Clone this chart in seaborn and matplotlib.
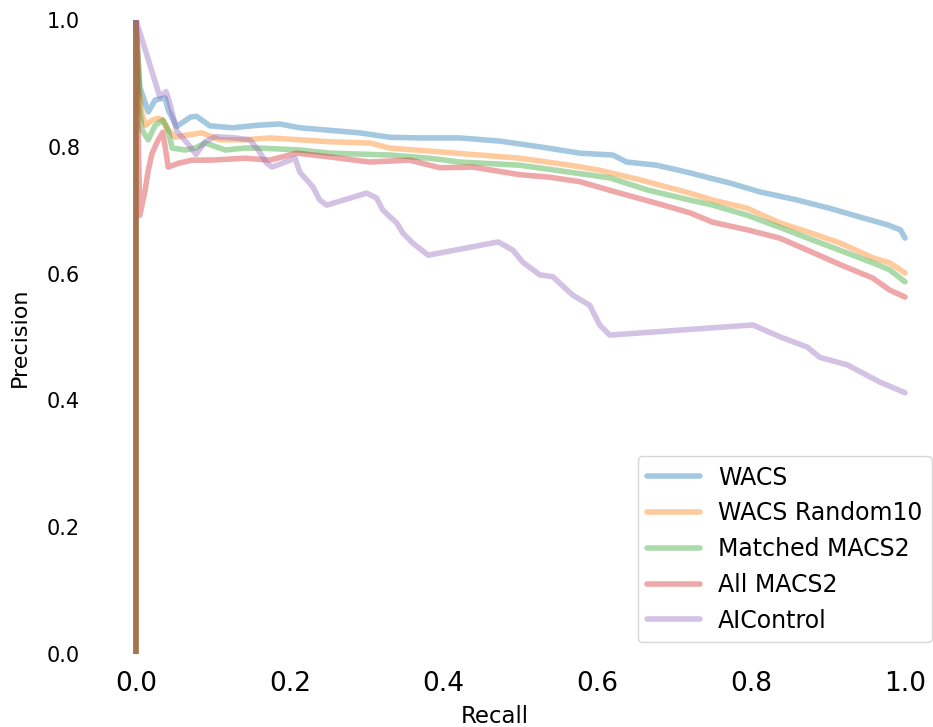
import numpy as np
import pandas as pd
import matplotlib
matplotlib.use("Agg")
import matplotlib.pyplot as plt
import seaborn as sns

series_names = ["WACS", "WACS Random10", "Matched MACS2", "All MACS2", "AIControl"]

wacs_recall = [0, 0, 0.005, 0.016, 0.025, 0.038, 0.042, 0.053, 0.071, 0.079, 0.096, 0.126, 0.158, 0.187,
               0.213, 0.252, 0.291, 0.330, 0.369, 0.421, 0.473, 0.525, 0.577, 0.620, 0.638, 0.677, 0.720,
               0.742, 0.772, 0.811, 0.860, 0.902, 0.942, 0.977, 0.994, 1.0]
wacs_precision = [0, 1, 0.894, 0.855, 0.874, 0.877, 0.858, 0.832, 0.847, 0.848, 0.833, 0.830, 0.834, 0.836,
                  0.830, 0.826, 0.822, 0.815, 0.814, 0.814, 0.809, 0.800, 0.790, 0.787, 0.776, 0.771, 0.759,
                  0.752, 0.743, 0.729, 0.716, 0.703, 0.689, 0.677, 0.669, 0.656]

rand_recall = [0, 0, 0.005, 0.008, 0.013, 0.021, 0.029, 0.035, 0.042, 0.051, 0.064, 0.086, 0.109, 0.142,
               0.174, 0.200, 0.252, 0.304, 0.330, 0.395, 0.447, 0.499, 0.564, 0.603, 0.655, 0.720, 0.750,
               0.795, 0.837, 0.873, 0.916, 0.958, 0.980, 1.0]
rand_precision = [0, 1, 0.882, 0.850, 0.834, 0.842, 0.845, 0.842, 0.826, 0.815, 0.818, 0.822, 0.811, 0.811,
                  0.814, 0.812, 0.808, 0.806, 0.798, 0.792, 0.787, 0.782, 0.771, 0.763, 0.748, 0.727, 0.716,
                  0.703, 0.680, 0.666, 0.648, 0.625, 0.617, 0.601]

matched_recall = [0, 0, 0.005, 0.008, 0.016, 0.025, 0.035, 0.042, 0.047, 0.064, 0.077, 0.090, 0.116, 0.142,
                  0.161, 0.213, 0.252, 0.330, 0.382, 0.421, 0.499, 0.564, 0.616, 0.665, 0.720, 0.750, 0.795,
                  0.837, 0.880, 0.915, 0.958, 0.980, 1.0]
matched_precision = [0, 1, 0.858, 0.826, 0.811, 0.834, 0.842, 0.826, 0.798, 0.795, 0.798, 0.806, 0.795, 0.798,
                     0.798, 0.795, 0.790, 0.787, 0.782, 0.776, 0.771, 0.760, 0.751, 0.732, 0.716, 0.708, 0.692,
                     0.673, 0.653, 0.637, 0.617, 0.606, 0.587]

all_recall = [0, 0, 0.005, 0.012, 0.016, 0.021, 0.029, 0.035, 0.042, 0.055, 0.073, 0.099, 0.142, 0.174,
              0.209, 0.252, 0.304, 0.356, 0.395, 0.438, 0.499, 0.538, 0.577, 0.629, 0.677, 0.720, 0.750,
              0.795, 0.837, 0.873, 0.916, 0.958, 0.980, 1.0]
all_precision = [0, 1, 0.692, 0.732, 0.763, 0.790, 0.811, 0.823, 0.768, 0.774, 0.779, 0.779, 0.782, 0.779,
                 0.790, 0.784, 0.776, 0.779, 0.767, 0.768, 0.756, 0.752, 0.745, 0.727, 0.711, 0.696, 0.681,
                 0.669, 0.656, 0.637, 0.614, 0.593, 0.574, 0.563]

aic_recall = [0, 0.031, 0.039, 0.044, 0.053, 0.068, 0.078, 0.090, 0.103, 0.129, 0.148, 0.159, 0.170, 0.177,
              0.207, 0.213, 0.230, 0.239, 0.248, 0.300, 0.313, 0.321, 0.339, 0.347, 0.360, 0.380, 0.471,
              0.490, 0.503, 0.525, 0.542, 0.568, 0.590, 0.603, 0.616, 0.802, 0.838, 0.873, 0.889, 0.925,
              0.967, 1.0]
aic_precision = [1, 0.879, 0.887, 0.869, 0.825, 0.804, 0.788, 0.808, 0.816, 0.814, 0.811, 0.795, 0.774, 0.768,
                 0.782, 0.760, 0.737, 0.716, 0.708, 0.727, 0.719, 0.700, 0.680, 0.664, 0.648, 0.629, 0.650,
                 0.637, 0.618, 0.598, 0.595, 0.566, 0.550, 0.519, 0.503, 0.519, 0.500, 0.484, 0.468, 0.456,
                 0.429, 0.412]

x_ticks = [0.0, 0.2, 0.4, 0.6, 0.8, 1.0]
x_ticklabels = ["0.0", "0.2", "0.4", "0.6", "0.8", "1.0"]
y_ticks = [0.0, 0.2, 0.4, 0.6, 0.8, 1.0]
y_ticklabels = ["0.0", "0.2", "0.4", "0.6", "0.8", "1.0"]

frames = []
for name, r, p in zip(series_names,
                      [wacs_recall, rand_recall, matched_recall, all_recall, aic_recall],
                      [wacs_precision, rand_precision, matched_precision, all_precision, aic_precision]):
    frames.append(pd.DataFrame({"Recall": r, "Precision": p, "Method": name,
                                "order": np.arange(len(r))}))
df = pd.concat(frames, ignore_index=True)

sns.set_style("white")
plt.rcParams["font.family"] = ["DejaVu Sans"]
plt.rcParams["text.color"] = "black"
plt.rcParams["axes.labelcolor"] = "black"
plt.rcParams["xtick.color"] = "black"
plt.rcParams["ytick.color"] = "black"

W, H = 933, 727
fig = plt.figure(figsize=(W / 100, H / 100), dpi=100)
ax = fig.add_axes([97.5 / W, (H - 654) / H, 846 / W, 634 / H])

palette = sns.color_palette("tab10", 5)
sns.lineplot(data=df, x="Recall", y="Precision", hue="Method", hue_order=series_names,
             palette=palette, sort=False, estimator=None, alpha=0.4, linewidth=4.0, ax=ax)

ax.set_xlim(-0.05, 1.05)
ax.set_ylim(0, 1)
sns.despine(ax=ax, left=True, bottom=True)
ax.grid(False)

ax.set_xticks(x_ticks)
ax.set_xticklabels(x_ticklabels, fontsize=19)
ax.set_yticks(y_ticks)
ax.set_yticklabels(y_ticklabels, fontsize=15)
ax.tick_params(axis="x", length=0, pad=12)
ax.tick_params(axis="y", length=0, pad=12.5)

ax.set_xlabel("Recall", fontsize=16.5)
ax.set_ylabel("Precision", fontsize=16)
ax.xaxis.set_label_coords(0.469, -0.08)
ax.yaxis.set_label_coords(-0.08, 0.5)

handles, labels = ax.get_legend_handles_labels()
leg = ax.legend(handles, labels, loc="lower right", fontsize=17, handlelength=2.25,
                handletextpad=0.75, frameon=True)
for h in leg.legend_handles:
    h.set_alpha(0.4)
    h.set_linewidth(4.0)

fig.savefig("out.png", dpi=100)
